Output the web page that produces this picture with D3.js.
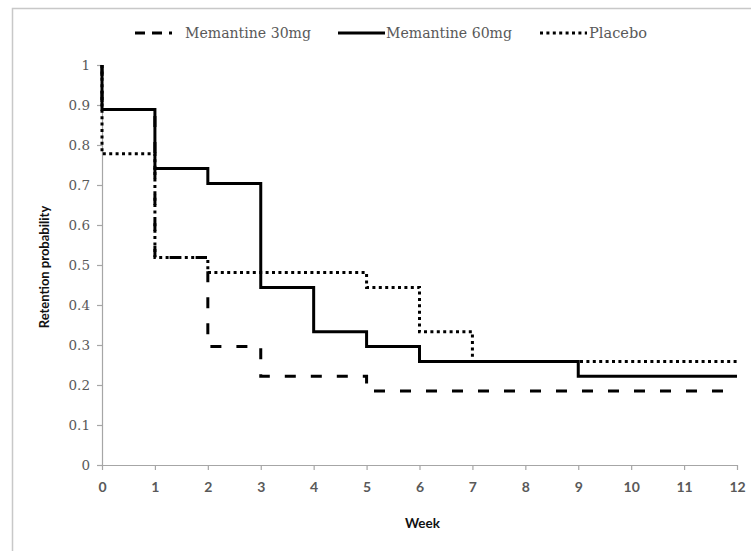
<!DOCTYPE html>
<html>
<head>
<meta charset="utf-8">
<script src="https://cdn.jsdelivr.net/npm/d3@7"></script>
<style>
  html, body { margin: 0; padding: 0; background: #fff; }
  svg { display: block; }
</style>
</head>
<body>
<svg id="chart" width="751" height="551"></svg>
<script>
// ---- data (Kaplan–Meier style retention, step points) ----
const weekTicks = [0,1,2,3,4,5,6,7,8,9,10,11,12];
const probTicks = [0,0.1,0.2,0.3,0.4,0.5,0.6,0.7,0.8,0.9,1];

const seriesNames = ["Memantine 30mg", "Memantine 60mg", "Placebo"];

const weeks30 = [0, 0, 1, 2, 3, 5, 12];
const surv30  = [1, 0.889, 0.519, 0.296, 0.222, 0.185, 0.185];

const weeks60 = [0, 0, 1, 2, 3, 4, 5, 6, 9, 12];
const surv60  = [1, 0.889, 0.741, 0.704, 0.444, 0.333, 0.296, 0.259, 0.222, 0.222];

const weeksPl = [0, 0, 1, 2, 5, 6, 7, 12];
const survPl  = [1, 0.778, 0.519, 0.481, 0.444, 0.333, 0.259, 0.259];

// ---- drawing ----
const svg = d3.select("#chart");
const gray = "#595959";

// outer chart border
svg.append("rect")
  .attr("x", 12.5).attr("y", 8.5)
  .attr("width", 760).attr("height", 560)
  .attr("fill", "none").attr("stroke", "#c8c8c8").attr("stroke-width", 1.5);

const x = d3.scaleLinear().domain([0, 12]).range([102, 737]);
const y = d3.scaleLinear().domain([0, 1]).range([465, 65]);

// y axis
const yAxis = svg.append("g")
  .attr("transform", `translate(${x(0)},0)`)
  .call(d3.axisLeft(y).tickValues(probTicks).tickSize(5).tickSizeOuter(0)
        .tickFormat(d => d3.format("")(+d.toFixed(1))));
yAxis.selectAll("path, line").attr("stroke", "#a6a6a6").attr("stroke-width", 1.2);
yAxis.selectAll("text")
  .attr("fill", gray).attr("font-family", "'DejaVu Serif', serif")
  .attr("font-size", 13.5).attr("x", -12);

// x axis
const xAxis = svg.append("g")
  .attr("transform", `translate(0,${y(0)})`)
  .call(d3.axisBottom(x).tickValues(weekTicks).tickSize(5).tickSizeOuter(0));
xAxis.selectAll("path, line").attr("stroke", "#a6a6a6").attr("stroke-width", 1.2);
xAxis.selectAll("text")
  .attr("fill", gray).attr("font-family", "Lato, sans-serif").attr("font-weight", "bold")
  .attr("font-size", 14).attr("y", 17);

// axis titles
svg.append("text")
  .attr("transform", `translate(49,${(y(0)+y(1))/2 + 2}) rotate(-90)`)
  .attr("text-anchor", "middle")
  .attr("font-family", "Lato, sans-serif").attr("font-weight", "bold")
  .attr("font-size", 13).attr("fill", "#111")
  .text("Retention probability");

svg.append("text")
  .attr("x", x(6) + 3).attr("y", 528)
  .attr("text-anchor", "middle")
  .attr("font-family", "Lato, sans-serif").attr("font-weight", "bold")
  .attr("font-size", 13.5).attr("fill", "#111")
  .text("Week");

// lines
const line = d3.line().x(d => x(d[0])).y(d => y(d[1])).curve(d3.curveStepAfter);
const styles = [
  { dash: "11,15", width: 3 },
  { dash: null, width: 3 },
  { dash: "3,3.4", width: 3 }
];
const seriesData = [
  d3.zip(weeks30, surv30),
  d3.zip(weeks60, surv60),
  d3.zip(weeksPl, survPl)
];
const drawOrder = [2, 0, 1];
drawOrder.forEach(i => {
  svg.append("path")
    .datum(seriesData[i])
    .attr("d", line)
    .attr("fill", "none")
    .attr("stroke", "#000")
    .attr("stroke-width", styles[i].width)
    .attr("stroke-dasharray", styles[i].dash)
    .attr("stroke-linejoin", "miter");
});

// legend
const legendItems = [
  { sx0: 135, sx1: 172, tx: 185, tw: 126 },
  { sx0: 338, sx1: 385, tx: 386, tw: 126 },
  { sx0: 540, sx1: 587, tx: 589, tw: 58 }
];
const legendY = 33;
legendItems.forEach((it, i) => {
  svg.append("line")
    .attr("x1", it.sx0).attr("x2", it.sx1)
    .attr("y1", legendY).attr("y2", legendY)
    .attr("stroke", "#000").attr("stroke-width", 3)
    .attr("stroke-dasharray", i === 0 ? "10,7" : (i === 2 ? "3,3.4" : null));
  svg.append("text")
    .attr("x", it.tx).attr("y", legendY + 5)
    .attr("font-family", "'DejaVu Serif', serif").attr("font-size", 14)
    .attr("fill", gray)
    .attr("textLength", it.tw).attr("lengthAdjust", "spacingAndGlyphs")
    .text(seriesNames[i]);
});
</script>
</body>
</html>
